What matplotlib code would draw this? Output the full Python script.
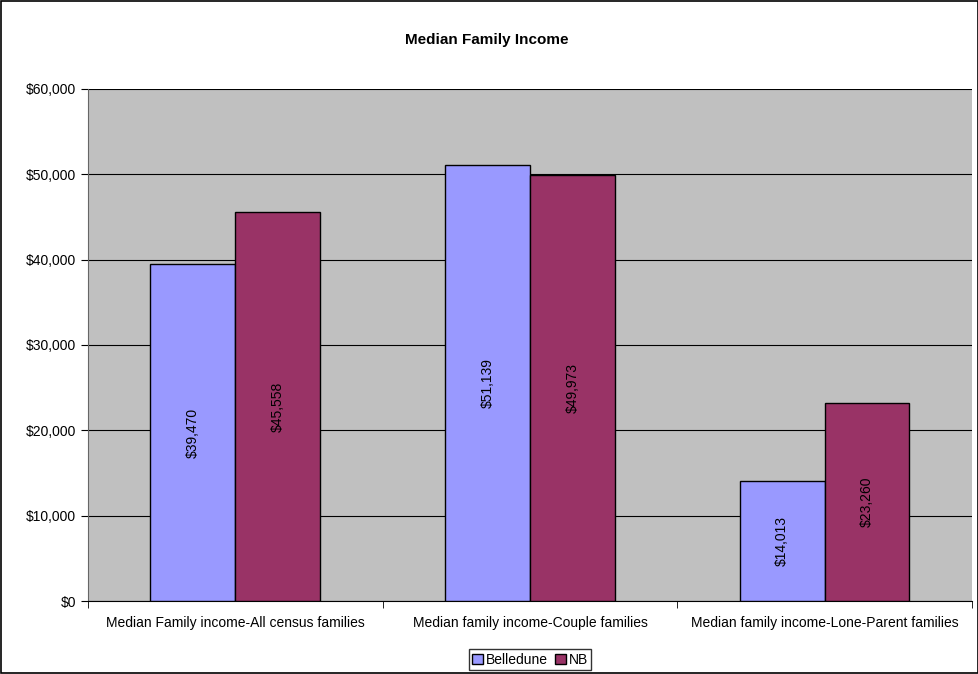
import matplotlib
matplotlib.use("Agg")
import matplotlib.pyplot as plt
import numpy as np
from matplotlib.ticker import FuncFormatter, FixedLocator

plt.rcParams['font.family'] = ['Liberation Sans', 'DejaVu Sans']

categories = ["Median Family income-All census families",
              "Median family income-Couple families",
              "Median family income-Lone-Parent families"]
belledune = [39470, 51139, 14013]
nb = [45558, 49973, 23260]

fig = plt.figure(figsize=(9.79, 6.74), dpi=100)
ax = fig.add_axes([0.0899, 0.1083, 0.9029, 0.7597])
ax.set_facecolor("#c0c0c0")

x = np.arange(len(categories))
w = 0.288
b1 = ax.bar(x - w / 2, belledune, w, color="#9999ff", edgecolor="black", linewidth=1, label="Belledune", zorder=3)
b2 = ax.bar(x + w / 2, nb, w, color="#993366", edgecolor="black", linewidth=1, label="NB", zorder=3)

for bars in (b1, b2):
    for r in bars:
        v = r.get_height()
        ax.text(r.get_x() + r.get_width() / 2, v / 2, f"${v:,.0f}", rotation=90,
                ha="center", va="center", fontsize=10, zorder=4)

ax.set_ylim(0, 60000)
ax.set_xlim(-0.5, 2.5)
ax.set_yticks(np.arange(0, 60001, 10000))
ax.yaxis.set_major_formatter(FuncFormatter(lambda v, p: f"${v:,.0f}"))
ax.yaxis.grid(True, color="black", linewidth=0.8, zorder=1)
ax.set_xticks(x)
ax.set_xticklabels(categories, fontsize=10)
ax.tick_params(axis="x", length=0, pad=11)
ax.xaxis.set_minor_locator(FixedLocator([-0.5, 0.5, 1.5, 2.5]))
ax.tick_params(axis="x", which="minor", length=5, color="black")
ax.tick_params(axis="y", labelsize=10, length=5, color="black")
for s in ["top", "right"]:
    ax.spines[s].set_visible(False)
ax.spines["left"].set_color("#666666")
ax.spines["bottom"].set_color("black")

fig.text(0.497, 0.94, "Median Family Income", fontsize=11, fontweight="bold",
         ha="center", va="center")

leg = ax.legend(loc="lower center", bbox_to_anchor=(0.5, -0.135), ncol=2, fontsize=10,
                frameon=True, fancybox=False, edgecolor="black", handlelength=0.8,
                handleheight=0.8, handletextpad=0.2, columnspacing=0.5, borderpad=0.25,
                borderaxespad=0)
leg.get_frame().set_linewidth(1)

fig.patches.append(plt.Rectangle((0.001, 0.001), 0.998, 0.998, transform=fig.transFigure,
                                 fill=False, edgecolor="black", linewidth=1.2))

fig.savefig("out.png", dpi=100)
